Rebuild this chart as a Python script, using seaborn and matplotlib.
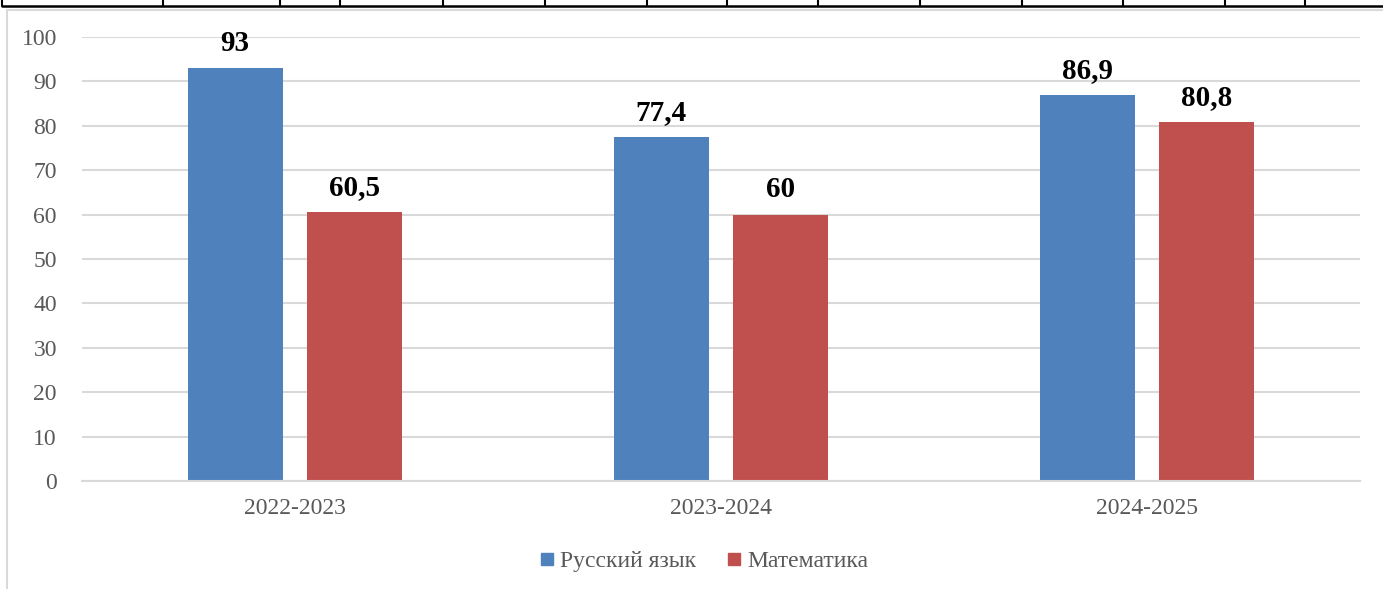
import pandas as pd
import matplotlib.pyplot as plt
import matplotlib.lines as mlines
import seaborn as sns

years = ["2022-2023", "2023-2024", "2024-2025"]
russian = [93, 77.4, 86.9]
maths = [60.5, 60, 80.8]
subjects = ["Русский язык", "Математика"]
colors = ["#4F81BD", "#C0504D"]

df = pd.DataFrame({
    "Год": years * 2,
    "Предмет": [subjects[0]] * 3 + [subjects[1]] * 3,
    "Значение": russian + maths,
})

sns.set_style("white")
plt.rcParams["font.family"] = ["Liberation Serif", "DejaVu Serif"]

W, H = 1383, 589
fig = plt.figure(figsize=(W / 100, H / 100), dpi=100)
ax = fig.add_axes([82 / W, 1 - 481 / H, (1360 - 82) / W, (481 - 37) / H])

sns.barplot(data=df, x="Год", y="Значение", hue="Предмет", palette=colors,
            width=0.563, gap=0.208, ax=ax, saturation=1, legend=False,
            edgecolor="none")

ax.set_ylim(0, 100)
ax.set_xlim(-0.5, 2.5)
ax.set_yticks(range(0, 101, 10))
ax.yaxis.grid(True, color="#d9d9d9", lw=1.5)
ax.set_axisbelow(True)
for s in ["top", "right", "left"]:
    ax.spines[s].set_visible(False)
ax.spines["bottom"].set_color("#d9d9d9")
ax.spines["bottom"].set_linewidth(1.5)
ax.tick_params(length=0, labelsize=17, labelcolor="#595959")
ax.tick_params(axis="y", pad=18)
ax.tick_params(axis="x", pad=12)
ax.set_xlabel("")
ax.set_ylabel("")

for cont in ax.containers:
    labels = [f"{v:g}".replace(".", ",") for v in cont.datavalues]
    ax.bar_label(cont, labels=labels, padding=8, fontsize=21,
                 fontweight="bold", color="black")

handles = [mlines.Line2D([], [], marker="s", ls="", color=c, markersize=9)
           for c in colors]
fig.legend(handles, subjects, loc="center", bbox_to_anchor=(702 / W, 1 - 561 / H),
           ncol=2, frameon=False, fontsize=17, handletextpad=0.05,
           columnspacing=1.1, labelcolor="#595959", handlelength=1)

# chart frame and page table fragments
fig.add_artist(mlines.Line2D([7 / W, 7 / W], [0, 1 - 10 / H],
                             color="#d9d9d9", lw=1.5))
fig.add_artist(mlines.Line2D([7 / W, 1], [1 - 10 / H, 1 - 10 / H],
                             color="#d9d9d9", lw=1.5))
fig.add_artist(mlines.Line2D([2 / W, 1], [1 - 6 / H, 1 - 6 / H],
                             color="black", lw=1.8))
for xp in [2, 163, 280, 340, 443, 545, 647, 727, 818, 920, 1022, 1123, 1225, 1305]:
    fig.add_artist(mlines.Line2D([xp / W, xp / W], [1 - 6 / H, 1],
                                 color="black", lw=1.5))

fig.savefig("out.png", dpi=100)
